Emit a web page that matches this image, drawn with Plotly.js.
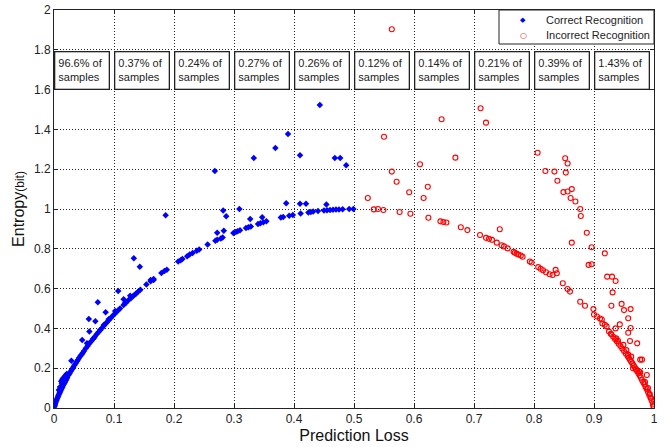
<!DOCTYPE html>
<html>
<head>
<meta charset="utf-8">
<script src="https://cdn.plot.ly/plotly-3.0.1.min.js"></script>
<style>html,body{margin:0;padding:0;background:#fff;}#chart{width:669px;height:447px;}</style>
</head>
<body>
<div id="chart"></div>
<script>
// Correct recognition points (prediction loss, entropy)
var correctX = [
0.0005,0.001,0.0015,0.002,0.003,0.004,0.005,0.006,0.007,0.008,0.009,0.010,0.011,0.012,0.013,0.014,0.015,0.016,0.017,0.018,0.019,0.020,0.021,0.022,0.024,0.026,0.028,0.030,0.032,0.034,0.036,0.038,0.040,0.042,0.044,0.046,0.048,0.050,0.053,0.056,0.059,0.062,0.065,0.068,0.071,0.074,0.077,0.080,0.083,0.086,0.089,0.092,0.095,0.098,0.101,0.104,0.107,0.110,0.116,0.120,0.124,0.128,0.131,0.134,0.137,0.140,0.144,0.154,0.161,0.166,0.179,0.184,0.188,0.207,0.211,0.214,0.222,0.226,0.231,0.238,0.242,0.256,0.269,0.272,0.278,0.281,0.299,0.303,0.306,0.310,0.320,0.324,0.328,0.340,0.344,0.349,0.354,0.378,0.382,0.392,0.398,0.411,0.424,0.428,0.432,0.440,0.450,0.455,0.460,0.465,0.470,0.475,0.481,0.492,0.499,
0.443,0.390,0.369,0.333,0.410,0.468,0.477,0.487,0.268,0.186,0.387,0.410,0.420,0.454,0.282,0.287,0.309,0.272,0.283,0.327,0.347,0.133,0.143,0.107,0.102,0.091,0.086,0.083,0.073,0.069,0.058,0.059,0.047,0.029,0.055,0.066,0.077,0.118,0.127,0.116,0.161,0.166,
0.010,0.012,0.014,0.016,0.018,0.020,0.022,0.025,0.013,0.008,0.021,0.017
];
var correctY = [
0.006,0.011,0.016,0.021,0.030,0.038,0.045,0.053,0.060,0.067,0.074,0.081,0.087,0.094,0.100,0.106,0.113,0.119,0.125,0.130,0.136,0.141,0.147,0.153,0.164,0.174,0.185,0.194,0.205,0.215,0.224,0.234,0.242,0.252,0.261,0.269,0.278,0.286,0.300,0.311,0.324,0.335,0.347,0.358,0.370,0.381,0.392,0.402,0.413,0.423,0.433,0.443,0.453,0.463,0.472,0.482,0.491,0.500,0.518,0.529,0.541,0.552,0.560,0.568,0.576,0.584,0.594,0.620,0.637,0.648,0.678,0.688,0.695,0.736,0.743,0.749,0.763,0.771,0.779,0.790,0.797,0.821,0.840,0.845,0.852,0.857,0.880,0.885,0.888,0.893,0.904,0.908,0.912,0.925,0.928,0.933,0.938,0.957,0.960,0.966,0.970,0.977,0.983,0.985,0.987,0.990,0.993,0.994,0.995,0.996,0.997,0.998,0.999,1.000,1.000,
1.523,1.377,1.307,1.256,1.270,1.256,1.256,1.220,1.191,0.968,1.029,1.027,1.027,1.022,0.993,0.963,1.000,0.881,0.891,0.950,0.958,0.752,0.710,0.588,0.487,0.446,0.481,0.417,0.531,0.436,0.447,0.384,0.342,0.238,0.325,0.350,0.392,0.526,0.564,0.546,0.643,0.643,
0.105,0.135,0.145,0.152,0.160,0.165,0.168,0.172,0.125,0.090,0.171,0.151
];
// Incorrect recognition points
var incorrectX = [
0.533,0.540,0.549,0.576,0.594,0.624,0.644,0.649,0.654,0.678,0.689,0.710,0.720,0.725,0.730,0.738,0.746,0.750,0.756,0.766,0.768,0.771,0.774,0.778,0.781,0.793,0.796,0.807,0.811,0.815,0.820,0.826,0.831,0.838,0.848,0.856,0.860,0.877,0.885,0.900,0.905,0.910,0.913,0.918,0.921,0.925,0.928,0.932,0.935,0.938,0.941,0.944,0.947,0.950,0.953,0.956,0.958,0.960,0.962,0.964,0.966,0.968,0.970,0.972,0.974,0.976,0.978,0.980,0.982,0.984,0.986,0.988,0.990,0.992,0.994,0.996,0.998,0.999,0.9995,
0.523,0.563,0.711,0.720,0.646,0.550,0.669,0.610,0.563,0.571,0.623,0.592,0.616,0.743,0.806,0.819,0.834,0.852,0.856,0.853,0.839,0.849,0.856,0.863,0.861,0.869,0.877,0.878,0.888,0.863,0.896,0.918,0.891,0.896,0.922,0.930,0.936,0.931,0.929,0.946,0.950,0.961,0.957,0.961,0.957,0.943,0.936,0.972,0.960,0.977,0.980,0.965,0.970,0.975,0.977,0.988,0.836,0.899,0.914,0.929,0.937,0.940,0.949,0.954,0.957,0.962,0.985,0.990,0.993,0.995
];
var incorrectY = [
0.998,1.000,0.995,0.985,0.976,0.956,0.938,0.935,0.932,0.908,0.894,0.869,0.855,0.850,0.845,0.831,0.818,0.812,0.802,0.785,0.780,0.776,0.771,0.766,0.760,0.736,0.731,0.708,0.700,0.692,0.682,0.672,0.668,0.677,0.627,0.598,0.585,0.534,0.514,0.470,0.460,0.450,0.445,0.418,0.410,0.384,0.373,0.358,0.347,0.335,0.323,0.311,0.299,0.286,0.274,0.261,0.252,0.242,0.233,0.224,0.214,0.205,0.194,0.185,0.174,0.164,0.153,0.141,0.130,0.119,0.106,0.094,0.081,0.067,0.053,0.038,0.021,0.011,0.006,
1.055,1.903,1.506,1.434,1.451,1.363,1.258,1.225,1.188,1.137,1.112,1.084,1.055,0.898,1.283,1.191,1.188,1.255,1.229,1.183,1.142,1.085,1.088,1.100,1.055,1.038,1.000,0.965,0.881,0.831,0.808,0.777,0.719,0.722,0.660,0.660,0.638,0.581,0.514,0.523,0.492,0.497,0.451,0.402,0.378,0.420,0.400,0.325,0.337,0.243,0.243,0.200,0.195,0.185,0.180,0.166,0.694,0.497,0.425,0.370,0.350,0.338,0.317,0.291,0.268,0.258,0.130,0.100,0.070,0.050
];
var seriesNames = ["Correct Recognition", "Incorrect Recognition"];
var seriesColors = ["#0000ff", "#ff0000"];
var legendGlyphs = ["\u25C6", "\u25CB"];
var shareLabels = ["96.6%", "0.37%", "0.24%", "0.27%", "0.26%", "0.12%", "0.14%", "0.21%", "0.39%", "1.43%"];
var xTicks = [0, 0.1, 0.2, 0.3, 0.4, 0.5, 0.6, 0.7, 0.8, 0.9, 1];
var yTicks = [0, 0.2, 0.4, 0.6, 0.8, 1, 1.2, 1.4, 1.6, 1.8, 2];

var FONT = "Liberation Sans, Arial, sans-serif";

var traces = [
  {x: correctX, y: correctY, mode: "markers", type: "scatter", name: seriesNames[0],
   marker: {symbol: "diamond", size: 5, color: seriesColors[0]}},
  {x: incorrectX, y: incorrectY, mode: "markers", type: "scatter", name: seriesNames[1],
   marker: {symbol: "circle-open", size: 5, color: seriesColors[1], line: {width: 1.1, color: seriesColors[1]}}}
];

var annotations = shareLabels.map(function (s, i) {
  return {
    x: 0.047 + 0.1 * i, y: 1.696, xref: "x", yref: "y",
    text: s + " of<br>samples", showarrow: false, align: "left",
    width: 47, height: 30, borderpad: 3,
    bordercolor: "#222", borderwidth: 1.3, bgcolor: "#ffffff",
    font: {family: FONT, size: 11, color: "#222"}
  };
});

// Compact legend box (MATLAB style) drawn as a shape + text
var legTop = 1;
seriesNames.forEach(function (name, i) {
  var yy = legTop - (10 + i * 15) / 398;
  annotations.push({xref: "paper", yref: "paper", x: (544 - 54) / 600, y: yy,
    xanchor: "left", yanchor: "middle", showarrow: false, text: name,
    font: {family: FONT, size: 11, color: "#222"}});
  annotations.push({xref: "paper", yref: "paper", x: (523 - 54) / 600, y: yy,
    xanchor: "center", yanchor: "middle", showarrow: false, text: legendGlyphs[i],
    font: {family: "DejaVu Sans", size: i === 0 ? 7 : 8, color: seriesColors[i]}});
});

var axisCommon = {
  showgrid: true, gridcolor: "#222", griddash: "1px,2px", gridwidth: 1,
  showline: true, linecolor: "#222", linewidth: 1, mirror: "ticks",
  ticks: "inside", ticklen: 4, tickcolor: "#222", zeroline: false,
  tickfont: {family: FONT, size: 12, color: "#222"}
};

var layout = {
  width: 669, height: 447,
  margin: {l: 54, r: 15, t: 10, b: 39},
  paper_bgcolor: "#ffffff", plot_bgcolor: "#ffffff",
  showlegend: false,
  xaxis: Object.assign({}, axisCommon, {
    range: [0, 1], tickvals: xTicks, ticktext: xTicks.map(String),
    title: {text: "Prediction Loss", standoff: 4,
      font: {family: FONT, size: 16, color: "#111"}}
  }),
  yaxis: Object.assign({}, axisCommon, {
    range: [0, 2], tickvals: yTicks, ticktext: yTicks.map(String),
    title: {text: "Entropy<span style='font-size:12px'>(bit)</span>", standoff: 5,
      font: {family: FONT, size: 16, color: "#111"}}
  }),
  shapes: [{type: "rect", xref: "paper", yref: "paper",
    x0: (499 - 54) / 600, x1: 1, y0: (408 - 44) / 398, y1: 1,
    line: {color: "#222", width: 1}, fillcolor: "#ffffff", layer: "above"}],
  annotations: annotations
};

Plotly.newPlot("chart", traces, layout, {displayModeBar: false, staticPlot: true});
</script>
</body>
</html>
